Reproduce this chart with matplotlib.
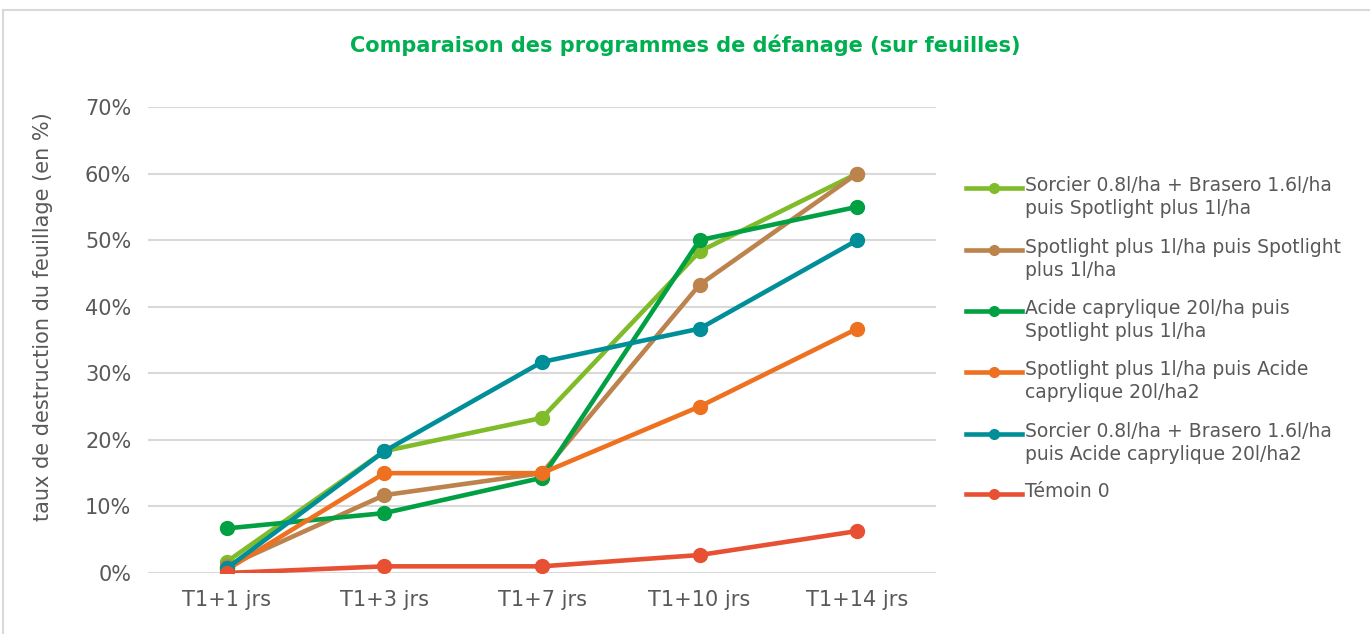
import matplotlib.pyplot as plt
from matplotlib.lines import Line2D
from matplotlib.patches import Rectangle
from matplotlib.ticker import PercentFormatter

categories = ["T1+1 jrs", "T1+3 jrs", "T1+7 jrs", "T1+10 jrs", "T1+14 jrs"]

labels = [
    "Sorcier 0.8l/ha + Brasero 1.6l/ha\npuis Spotlight plus 1l/ha",
    "Spotlight plus 1l/ha puis Spotlight\nplus 1l/ha",
    "Acide caprylique 20l/ha puis\nSpotlight plus 1l/ha",
    "Spotlight plus 1l/ha puis Acide\ncaprylique 20l/ha2",
    "Sorcier 0.8l/ha + Brasero 1.6l/ha\npuis Acide caprylique 20l/ha2",
    "Témoin 0",
]

sorcier_spot = [0.017, 0.183, 0.233, 0.483, 0.60]
spot_spot = [0.010, 0.117, 0.150, 0.433, 0.60]
acide_spot = [0.067, 0.090, 0.143, 0.500, 0.55]
spot_acide = [0.005, 0.150, 0.150, 0.250, 0.367]
sorcier_acide = [0.007, 0.183, 0.317, 0.367, 0.50]
temoin = [0.0, 0.010, 0.010, 0.027, 0.063]

series = [sorcier_spot, spot_spot, acide_spot, spot_acide, sorcier_acide, temoin]
colors = ["#80BC2A", "#BC834C", "#00A043", "#EE7121", "#008F98", "#E75032"]
grey = "#595959"

W, H = 1370, 634
fig = plt.figure(figsize=(W / 100, H / 100), dpi=100)
fig.patches.append(Rectangle((3 / W, -0.01), 1.1, 1 - 10 / H + 0.01,
                             transform=fig.transFigure, fill=False,
                             edgecolor="#d9d9d9", linewidth=1.5))
ax = fig.add_axes([148 / W, 1 - 573 / H, (936 - 148) / W, (573 - 107) / H])

x = range(len(categories))
for vals, lab, c in zip(series, labels, colors):
    ax.plot(x, vals, color=c, linewidth=3.3, marker="o", markersize=10, label=lab,
            solid_capstyle="round")

ax.set_xlim(-0.5, len(categories) - 0.5)
ax.set_ylim(0, 0.7)
ax.set_yticks([i / 10 for i in range(8)])
ax.yaxis.set_major_formatter(PercentFormatter(1.0, decimals=0))
ax.set_xticks(list(x))
ax.set_xticklabels(categories)
ax.tick_params(axis="both", length=0, labelsize=15, colors=grey)
ax.tick_params(axis="x", pad=12)
ax.tick_params(axis="y", pad=12)
ax.grid(axis="y", color="#d9d9d9", linewidth=1.5)
ax.set_axisbelow(True)
for s in ax.spines.values():
    s.set_visible(False)

ax.set_ylabel("taux de destruction du feuillage (en %)", fontsize=15, color=grey)
ax.yaxis.set_label_coords(-0.12, (573 - 317) / (573 - 107))
fig.text(0.5, 1 - 45 / H, "Comparaison des programmes de défanage (sur feuilles)",
         ha="center", va="center", fontsize=15, fontweight="bold", color="#00B050")

# legend drawn by hand so the key sits on the first text line, like the original
legend_y = [188, 250, 311, 372, 434, 494]
for yy, lab, c in zip(legend_y, labels, colors):
    fy = 1 - yy / H
    fig.add_artist(Line2D([966 / W, 1022 / W], [fy, fy], color=c, linewidth=3.3,
                          transform=fig.transFigure))
    fig.add_artist(Line2D([994 / W], [fy], color=c, marker="o", markersize=7,
                          transform=fig.transFigure))
    fig.text(1025 / W, 1 - (yy - 12) / H, lab, ha="left", va="top", fontsize=13.5,
             color=grey, linespacing=1.25)

fig.savefig("out.png", dpi=100)
